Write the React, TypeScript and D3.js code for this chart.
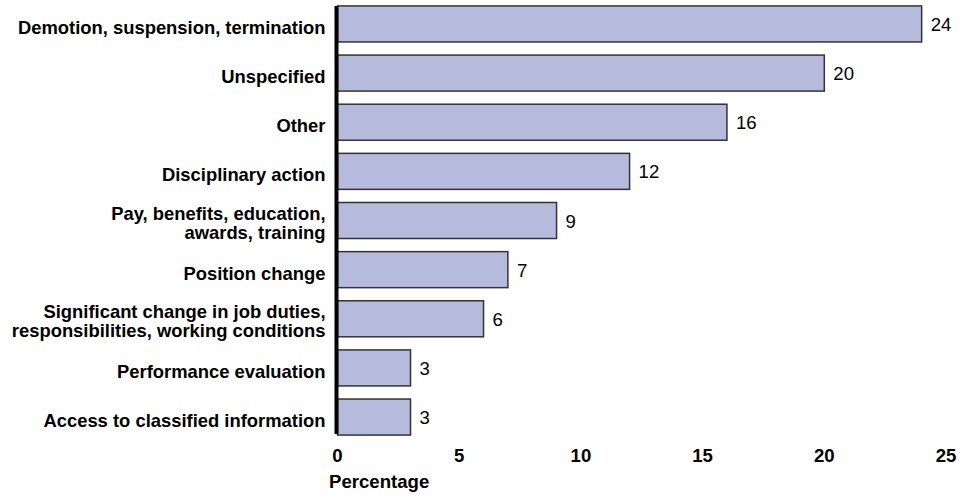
import * as React from 'react';
import * as d3 from 'd3';

const CATEGORIES = [
  ['Demotion, suspension, termination'],
  ['Unspecified'],
  ['Other'],
  ['Disciplinary action'],
  ['Pay, benefits, education,', 'awards, training'],
  ['Position change'],
  ['Significant change in job duties,', 'responsibilities, working conditions'],
  ['Performance evaluation'],
  ['Access to classified information'],
];
const VALUES = [24, 20, 16, 12, 9, 7, 6, 3, 3];
const X_TICKS = [0, 5, 10, 15, 20, 25];
const X_LABEL = 'Percentage';

const FONT = 'Liberation Sans, Arial, Helvetica, sans-serif';
const FS = 18.6;

export default function App() {
  const svgRef = React.useRef<SVGSVGElement>(null);

  React.useEffect(() => {
    const svg = d3.select(svgRef.current);
    svg.selectAll('*').remove();

    const x0 = 337.5;
    const xScale = d3.scaleLinear().domain([0, 25]).range([x0, 946]);
    const idx = VALUES.map((_, i) => String(i));
    const yScale = d3
      .scaleBand()
      .domain(idx)
      .range([-0.6, 441.6])
      .paddingInner(0.267)
      .paddingOuter(0.133);

    /** bars */
    svg
      .append('g')
      .selectAll('rect')
      .data(VALUES)
      .enter()
      .append('rect')
      .attr('x', x0)
      .attr('y', (_, i) => yScale(String(i))!)
      .attr('width', (d) => xScale(d) - x0)
      .attr('height', yScale.bandwidth())
      .attr('fill', '#b6bbdd')
      .attr('stroke', '#333')
      .attr('stroke-width', 1.5);

    /** value labels */
    svg
      .append('g')
      .selectAll('text')
      .data(VALUES)
      .enter()
      .append('text')
      .attr('x', (d) => xScale(d) + 9)
      .attr('y', (_, i) => yScale(String(i))! + yScale.bandwidth() / 2 + 7)
      .attr('font-family', FONT)
      .attr('font-size', FS)
      .attr('fill', '#000')
      .text((d) => d);

    /** category labels */
    const labels = svg
      .append('g')
      .selectAll('text')
      .data(CATEGORIES)
      .enter()
      .append('text')
      .attr('text-anchor', 'end')
      .attr('font-family', FONT)
      .attr('font-size', 18.4)
      .attr('font-weight', 'bold')
      .attr('fill', '#000');
    labels.each(function (lines, i) {
      const t = d3.select(this);
      const cy = yScale(String(i))! + yScale.bandwidth() / 2;
      const lh = 19;
      const off = lines.length > 1 ? 8.5 : 10;
      lines.forEach((ln, j) => {
        t.append('tspan')
          .attr('x', 325.5)
          .attr('y', cy + (j - (lines.length - 1) / 2) * lh + off)
          .text(ln);
      });
    });

    /** axis line */
    svg
      .append('line')
      .attr('x1', 336.5)
      .attr('x2', 336.5)
      .attr('y1', 6)
      .attr('y2', 434)
      .attr('stroke', '#000')
      .attr('stroke-width', 4);

    /** x ticks */
    svg
      .append('g')
      .selectAll('text')
      .data(X_TICKS)
      .enter()
      .append('text')
      .attr('x', (d) => xScale(d))
      .attr('y', 462)
      .attr('text-anchor', 'middle')
      .attr('font-family', FONT)
      .attr('font-size', FS)
      .attr('font-weight', 'bold')
      .text((d) => d);

    svg
      .append('text')
      .attr('x', 329)
      .attr('y', 488)
      .attr('font-family', FONT)
      .attr('font-size', FS)
      .attr('font-weight', 'bold')
      .text(X_LABEL);
  });

  return (
    <svg
      ref={svgRef}
      width={974}
      height={495}
      style={{ position: 'absolute', left: 0, top: 0, background: '#fff' }}
    />
  );
}
